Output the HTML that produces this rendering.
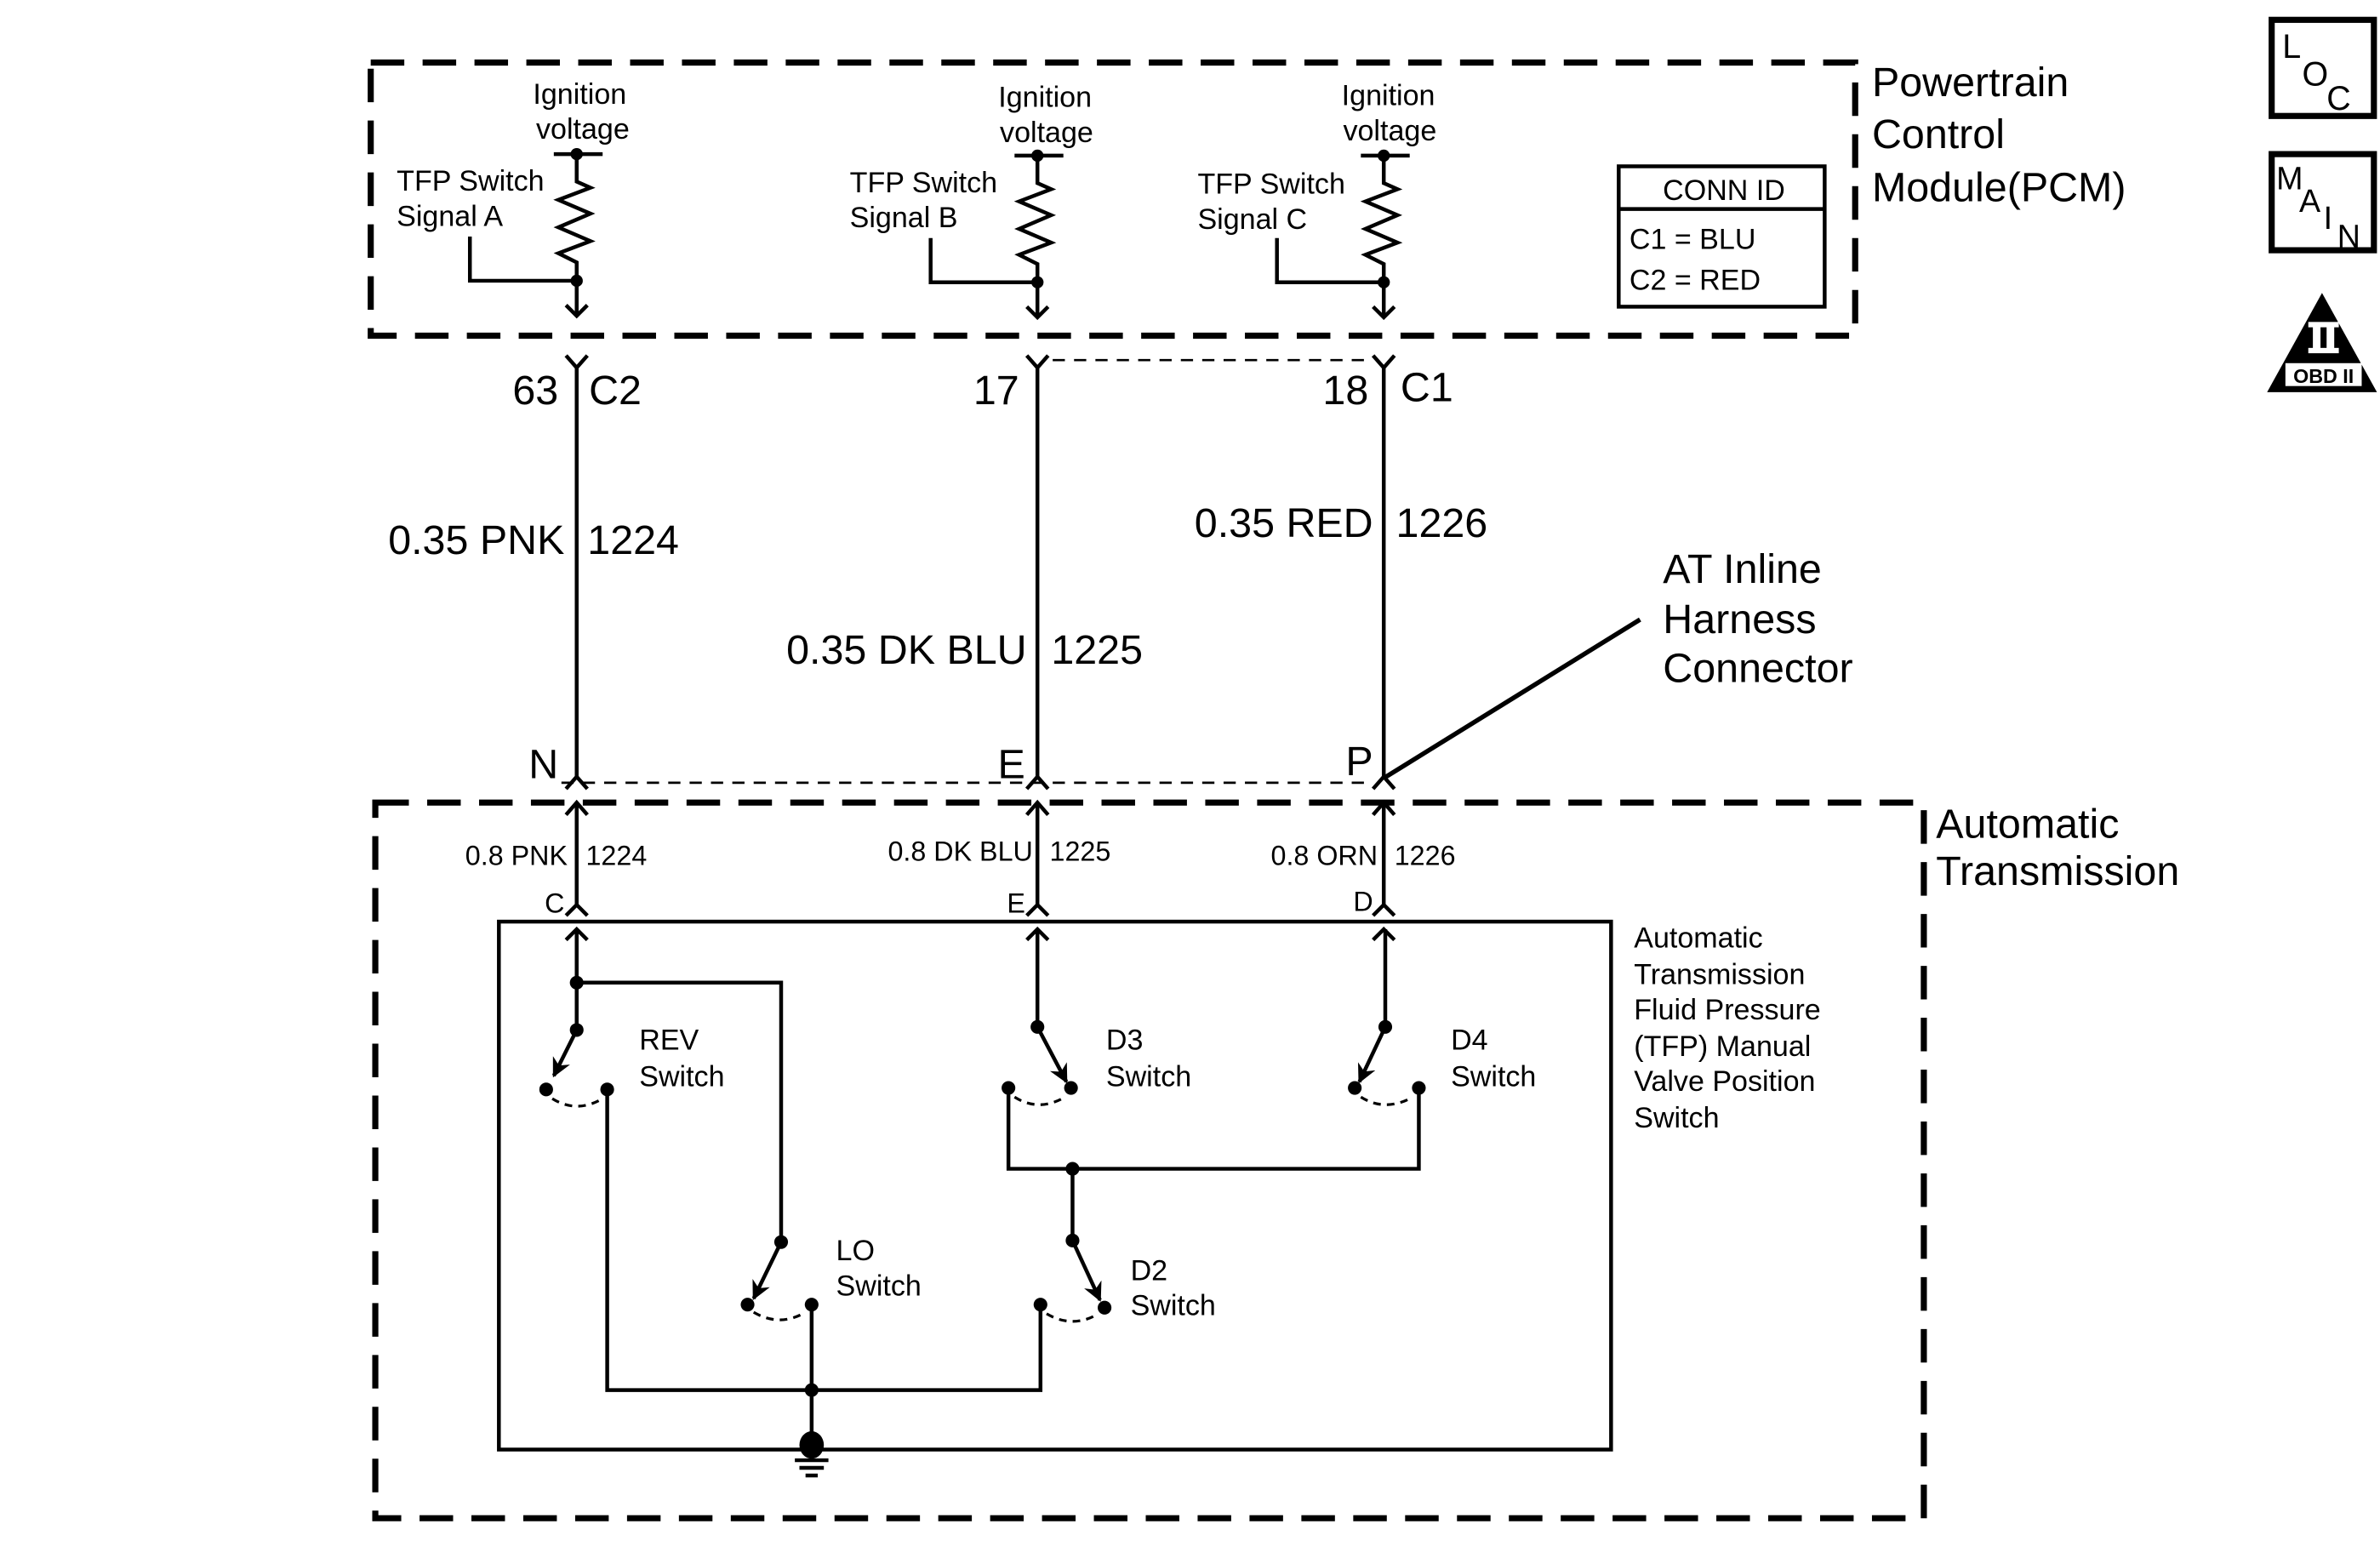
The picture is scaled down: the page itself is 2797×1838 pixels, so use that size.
<!DOCTYPE html>
<html><head><meta charset="utf-8"><style>html,body{margin:0;padding:0;background:#fff}svg{display:block}text{font-family:"Liberation Sans",sans-serif;fill:#000}</style></head>
<body>
<svg width="2797" height="1838" viewBox="0 0 1560 1025" preserveAspectRatio="none" xmlns="http://www.w3.org/2000/svg">
<defs>
<marker id="ah" viewBox="0 0 10 10" refX="9" refY="5" markerWidth="5" markerHeight="5" orient="auto"><path d="M0,0 L10,5 L0,10 L3,5 z" fill="#000"/></marker>
</defs>
<rect width="1560" height="1025" fill="#fff"/>
<g fill="none" stroke="#000">
<rect x="243" y="41" width="973" height="179" stroke-width="4" stroke-dasharray="22,12"/>
<rect x="246" y="526" width="1015" height="469" stroke-width="4" stroke-dasharray="22,12"/>
<rect x="327" y="604" width="729" height="346" stroke-width="2.5"/>
<line x1="690" y1="236" x2="900" y2="236" stroke-width="1.5" stroke-dasharray="8,6"/>
<line x1="368" y1="513" x2="900" y2="513" stroke-width="1.5" stroke-dasharray="8,6"/>
</g>

<g fill="none" stroke="#000" stroke-width="2.5">
<g>
<line x1="363" y1="101" x2="395" y2="101"/>
<polyline points="378,101 378,119 387,123 366,131 387,140 366,149 387,158 366,166 378,172 378,207"/>
<polyline points="308,155 308,184 378,184"/>
<polyline points="371,200 378,207 385,200"/>
</g>
<g transform="translate(302,1)">
<line x1="363" y1="101" x2="395" y2="101"/>
<polyline points="378,101 378,119 387,123 366,131 387,140 366,149 387,158 366,166 378,172 378,207"/>
<polyline points="308,155 308,184 378,184"/>
<polyline points="371,200 378,207 385,200"/>
</g>
<g transform="translate(529,1)">
<line x1="363" y1="101" x2="395" y2="101"/>
<polyline points="378,101 378,119 387,123 366,131 387,140 366,149 387,158 366,166 378,172 378,207"/>
<polyline points="308,155 308,184 378,184"/>
<polyline points="371,200 378,207 385,200"/>
</g>

<g>
<polyline points="371,233 378,241 385,233"/>
<line x1="378" y1="241" x2="378" y2="509"/>
<polyline points="371,517 378,509 385,517"/>
<polyline points="371,534 378,526 385,534"/>
<line x1="378" y1="526" x2="378" y2="593"/>
<polyline points="371,600 378,593 385,600"/>
<polyline points="371,616 378,609 385,616"/>
</g>
<g transform="translate(302,0)">
<polyline points="371,233 378,241 385,233"/>
<line x1="378" y1="241" x2="378" y2="509"/>
<polyline points="371,517 378,509 385,517"/>
<polyline points="371,534 378,526 385,534"/>
<line x1="378" y1="526" x2="378" y2="593"/>
<polyline points="371,600 378,593 385,600"/>
<polyline points="371,616 378,609 385,616"/>
</g>
<g transform="translate(529,0)">
<polyline points="371,233 378,241 385,233"/>
<line x1="378" y1="241" x2="378" y2="509"/>
<polyline points="371,517 378,509 385,517"/>
<polyline points="371,534 378,526 385,534"/>
<line x1="378" y1="526" x2="378" y2="593"/>
<polyline points="371,600 378,593 385,600"/>
<polyline points="371,616 378,609 385,616"/>
</g>
<line x1="907" y1="510" x2="1075" y2="406" stroke-width="3"/>

<rect x="1061" y="109" width="135" height="92" stroke-width="2.5"/>
<line x1="1061" y1="137" x2="1196" y2="137"/>

<polyline points="378,609 378,675"/>
<polyline points="378,644 512,644 512,814"/>
<line x1="378" y1="675" x2="363" y2="705" marker-end="url(#ah)"/>
<polyline points="398,714 398,911 682,911 682,855"/>
<line x1="512" y1="814" x2="494" y2="851" marker-end="url(#ah)"/>
<line x1="532" y1="855" x2="532" y2="948"/>
<line x1="680" y1="609" x2="680" y2="673"/>
<line x1="680" y1="673" x2="699" y2="709" marker-end="url(#ah)"/>
<polyline points="661,713 661,766 930,766 930,713"/>
<line x1="908" y1="609" x2="908" y2="673"/>
<line x1="908" y1="673" x2="891" y2="709" marker-end="url(#ah)"/>
<line x1="703" y1="766" x2="703" y2="813"/>
<line x1="703" y1="813" x2="721" y2="852" marker-end="url(#ah)"/>
<g stroke-width="1.8" stroke-dasharray="5,4">
<path d="M362,720 Q378,730 395,720"/>
<path d="M494,860 Q511,870 528,860"/>
<path d="M665,719 Q681,729 698,719"/>
<path d="M892,719 Q908,729 926,719"/>
<path d="M686,861 Q703,871 720,861"/>
</g>
<line x1="521" y1="957" x2="543" y2="957"/>
<line x1="524" y1="962" x2="540" y2="962"/>
<line x1="528" y1="967" x2="536" y2="967"/>
</g>

<g fill="#000">
<circle cx="378" cy="101" r="4"/><circle cx="378" cy="184" r="4"/>
<circle cx="680" cy="102" r="4"/><circle cx="680" cy="185" r="4"/>
<circle cx="907" cy="102" r="4"/><circle cx="907" cy="185" r="4"/>
<circle cx="378" cy="644" r="4.5"/><circle cx="378" cy="675" r="4.5"/>
<circle cx="358" cy="714" r="4.5"/><circle cx="398" cy="714" r="4.5"/>
<circle cx="512" cy="814" r="4.5"/><circle cx="490" cy="855" r="4.5"/><circle cx="532" cy="855" r="4.5"/>
<circle cx="532" cy="911" r="4.5"/>
<ellipse cx="532" cy="947" rx="8" ry="9"/>
<circle cx="680" cy="673" r="4.5"/><circle cx="661" cy="713" r="4.5"/><circle cx="702" cy="713" r="4.5"/>
<circle cx="908" cy="673" r="4.5"/><circle cx="888" cy="713" r="4.5"/><circle cx="930" cy="713" r="4.5"/>
<circle cx="703" cy="766" r="4.5"/>
<circle cx="703" cy="813" r="4.5"/><circle cx="682" cy="855" r="4.5"/><circle cx="724" cy="857" r="4.5"/>
</g>

<g font-size="19" text-anchor="middle">
<text x="380" y="68">Ignition</text><text x="382" y="91">voltage</text>
<text x="685" y="70">Ignition</text><text x="686" y="93">voltage</text>
<text x="910" y="69">Ignition</text><text x="911" y="92">voltage</text>
</g>
<g font-size="19">
<text x="260" y="125">TFP Switch</text><text x="260" y="148">Signal A</text>
<text x="557" y="126">TFP Switch</text><text x="557" y="149">Signal B</text>
<text x="785" y="127">TFP Switch</text><text x="785" y="150">Signal C</text>
<text x="1130" y="131" text-anchor="middle">CONN ID</text>
<text x="1068" y="163">C1 = BLU</text>
<text x="1068" y="190">C2 = RED</text>
</g>
<g font-size="27">
<text x="1227" y="63">Powertrain</text><text x="1227" y="97">Control</text><text x="1227" y="132">Module(PCM)</text>
<text x="1090" y="382">AT Inline</text><text x="1090" y="415">Harness</text><text x="1090" y="447">Connector</text>
<text x="1269" y="549">Automatic</text><text x="1269" y="580">Transmission</text>
<text x="366" y="265" text-anchor="end">63</text><text x="386" y="265">C2</text>
<text x="668" y="265" text-anchor="end">17</text>
<text x="897" y="265" text-anchor="end">18</text><text x="918" y="263">C1</text>
<text x="370" y="363" text-anchor="end">0.35 PNK</text><text x="385" y="363">1224</text>
<text x="673" y="435" text-anchor="end">0.35 DK BLU</text><text x="689" y="435">1225</text>
<text x="900" y="352" text-anchor="end">0.35 RED</text><text x="915" y="352">1226</text>
<text x="366" y="510" text-anchor="end">N</text>
<text x="672" y="510" text-anchor="end">E</text>
<text x="900" y="508" text-anchor="end">P</text>
</g>
<g font-size="18">
<text x="372" y="567" text-anchor="end">0.8 PNK</text><text x="384" y="567">1224</text>
<text x="677" y="564" text-anchor="end">0.8 DK BLU</text><text x="688" y="564">1225</text>
<text x="903" y="567" text-anchor="end">0.8 ORN</text><text x="914" y="567">1226</text>
<text x="370" y="598" text-anchor="end">C</text>
<text x="672" y="598" text-anchor="end">E</text>
<text x="900" y="597" text-anchor="end">D</text>
</g>
<g font-size="19">
<text x="419" y="688">REV</text><text x="419" y="712">Switch</text>
<text x="725" y="688">D3</text><text x="725" y="712">Switch</text>
<text x="951" y="688">D4</text><text x="951" y="712">Switch</text>
<text x="548" y="826">LO</text><text x="548" y="849">Switch</text>
<text x="741" y="839">D2</text><text x="741" y="862">Switch</text>
<text x="1071" y="621">Automatic</text><text x="1071" y="645">Transmission</text><text x="1071" y="668">Fluid Pressure</text>
<text x="1071" y="692">(TFP) Manual</text><text x="1071" y="715">Valve Position</text><text x="1071" y="739">Switch</text>
</g>

<rect x="1489" y="13" width="67" height="63" fill="none" stroke="#000" stroke-width="4"/>
<text x="1496" y="38" font-size="22">L</text><text x="1509" y="56" font-size="22">O</text><text x="1525" y="72" font-size="22">C</text>
<rect x="1489" y="101" width="67" height="63" fill="none" stroke="#000" stroke-width="4"/>
<text x="1492" y="124" font-size="21">M</text><text x="1507" y="139" font-size="21">A</text><text x="1523" y="150" font-size="21">I</text><text x="1532" y="162" font-size="21">N</text>
<polygon points="1522,192 1558,257 1486,257" fill="#000"/>
<rect x="1513" y="211" width="20" height="3.5" fill="#fff"/>
<rect x="1513" y="228" width="20" height="3.5" fill="#fff"/>
<rect x="1516" y="213" width="5" height="17" fill="#fff"/>
<rect x="1525" y="213" width="5" height="17" fill="#fff"/>
<rect x="1498" y="238" width="50" height="15" fill="#fff"/>
<text x="1523" y="251" font-size="13" font-weight="bold" text-anchor="middle">OBD II</text>
</svg>
</body></html>
